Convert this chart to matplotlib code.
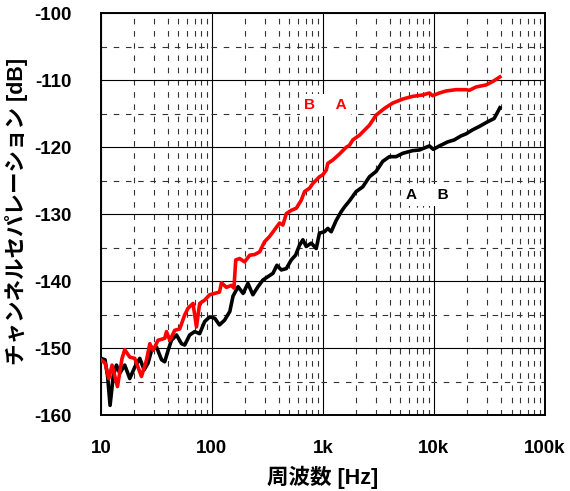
import numpy as np
import matplotlib
matplotlib.use('Agg')
import matplotlib.pyplot as plt
from matplotlib.ticker import FixedLocator, FixedFormatter, LogLocator, MultipleLocator, NullFormatter

# Channel separation, red: B -> A, black: A -> B
freq_ba = [10, 10.9, 11.8, 12.6, 14.1, 15.5, 16.4, 18.2, 20.2, 23.2, 25.8, 27.6, 29.5, 32.7,
           37.6, 39.0, 41.8, 46.3, 51.3, 56.9, 61.0, 67.6, 72.6, 77.6, 86.1, 95.5, 106, 117,
           122, 135, 150, 158, 164, 178, 197, 219, 243, 269, 298, 331, 367, 407, 436, 468,
           519, 575, 638, 684, 759, 811, 871, 931, 998, 1072, 1107, 1227, 1410, 1620, 1734,
           1858, 2134, 2624, 3015, 3581, 4254, 5234, 6430, 7910, 9100, 9730, 11190, 12850,
           15810, 19450, 20800, 23930, 29430, 33740, 39300]
sep_ba = [-151.7, -152.2, -154.5, -152.5, -155.7, -151.5, -150.2, -151.3, -151.5, -154.2,
          -151.7, -149.3, -150.3, -148.8, -148.5, -147.5, -148.8, -147.3, -147.1, -145.0,
          -144.0, -143.3, -146.8, -143.3, -142.8, -142.0, -141.8, -141.6, -140.2, -140.9,
          -140.6, -141.0, -136.8, -136.6, -137.1, -136.1, -136.0, -135.6, -134.1, -133.3,
          -132.3, -131.3, -131.6, -129.9, -129.4, -129.1, -127.9, -126.6, -126.1, -125.4,
          -124.9, -124.4, -124.1, -123.4, -122.4, -121.9, -121.0, -120.0, -119.7, -118.9,
          -118.2, -116.7, -115.2, -114.2, -113.4, -112.8, -112.4, -112.2, -111.9, -112.3,
          -111.9, -111.6, -111.4, -111.4, -111.5, -111.0, -110.7, -110.2, -109.5]

freq_ab = [10, 10.9, 11.5, 12.1, 12.9, 13.8, 14.8, 16.4, 18.2, 20.2, 22.4, 24.5, 26.6, 28.6,
           31.7, 35.2, 37.6, 40.3, 43.2, 48.0, 53.2, 56.9, 63.1, 70.0, 77.6, 86.1, 95.5, 106,
           117, 130, 145, 155, 172, 191, 211, 234, 260, 288, 320, 355, 385, 422, 468, 519,
           567, 616, 660, 708, 785, 871, 931, 1033, 1107, 1188, 1318, 1462, 1565, 1734, 1994,
           2286, 2624, 3015, 3459, 3970, 4560, 5234, 6430, 7400, 8490, 9100, 9880, 11190,
           13280, 15240, 17540, 19450, 22280, 25590, 30410, 34910, 39300]
sep_ab = [-151.5, -151.7, -154.2, -158.5, -154.2, -152.5, -153.7, -152.5, -154.5, -152.8,
          -151.5, -153.2, -152.2, -150.3, -149.8, -151.7, -152.0, -150.3, -148.8, -148.0,
          -149.3, -149.5, -148.0, -147.5, -147.8, -146.0, -145.3, -145.5, -146.5, -145.8,
          -144.5, -142.2, -140.8, -141.8, -140.3, -142.0, -140.8, -139.8, -139.3, -138.8,
          -137.6, -138.3, -138.1, -136.8, -136.1, -134.6, -133.8, -134.8, -134.3, -135.1,
          -132.8, -132.6, -132.1, -132.6, -130.9, -129.6, -128.9, -128.0, -126.6, -125.9,
          -124.4, -123.6, -122.1, -121.4, -121.4, -120.9, -120.5, -120.4, -120.0, -119.8,
          -120.3, -119.8, -119.2, -118.9, -118.3, -118.0, -117.4, -116.9, -116.2, -115.7,
          -114.1]

x_ticks = [10, 100, 1000, 10000, 100000]
x_labels = ['10', '100', '1k', '10k', '100k']
y_ticks = [-160, -150, -140, -130, -120, -110, -100]

label_font = ['Liberation Sans', 'Noto Sans CJK JP', 'DejaVu Sans']
plt.rcParams['font.family'] = label_font
plt.rcParams['axes.unicode_minus'] = False

fig = plt.figure(figsize=(5.7, 4.91), dpi=100)
ax = fig.add_axes([0.177, 0.154, 0.779, 0.819])

ax.plot(freq_ab, sep_ab, color='black', lw=2.6, zorder=3)
ax.plot(freq_ba, sep_ba, color='#ff0000', lw=2.6, zorder=3)

ax.set_xscale('log')
ax.set_xlim(10, 100000)
ax.set_ylim(-160, -100)

ax.xaxis.set_major_locator(FixedLocator(x_ticks))
ax.xaxis.set_major_formatter(FixedFormatter(x_labels))
ax.xaxis.set_minor_locator(LogLocator(base=10, subs=np.arange(2, 10)))
ax.xaxis.set_minor_formatter(NullFormatter())
ax.yaxis.set_major_locator(FixedLocator(y_ticks))
ax.yaxis.set_minor_locator(MultipleLocator(5))

ax.grid(which='major', color='black', lw=0.8, ls='-', zorder=1)
ax.grid(which='minor', color='#333333', lw=0.8, ls=(0, (5, 6)), zorder=1)

ax.tick_params(which='both', length=0)
ax.tick_params(axis='x', pad=18, labelsize=13.5)
ax.tick_params(axis='y', pad=21, labelsize=13.5)
for lbl in ax.get_xticklabels() + ax.get_yticklabels():
    lbl.set_fontweight('bold')

for s in ax.spines.values():
    s.set_linewidth(1.4)

ax.set_xlabel('周波数 [Hz]', fontsize=15.5, fontweight='bold')
ax.xaxis.set_label_coords(0.5, -0.125)
ax.set_ylabel('チャンネルセパレーション [dB]', fontsize=15.5, fontweight='bold')
ax.yaxis.set_label_coords(-0.164, 0.508)

box = dict(facecolor='white', edgecolor='none', pad=3)
ax.text(1050, -113.7, 'B     A', color='#ff0000', fontsize=11, fontweight='bold',
        ha='center', va='center', bbox=box, zorder=2)
ax.text(8700, -127.1, 'A     B', color='black', fontsize=11, fontweight='bold',
        ha='center', va='center', bbox=box, zorder=2)

fig.savefig('out.png', dpi=100)
